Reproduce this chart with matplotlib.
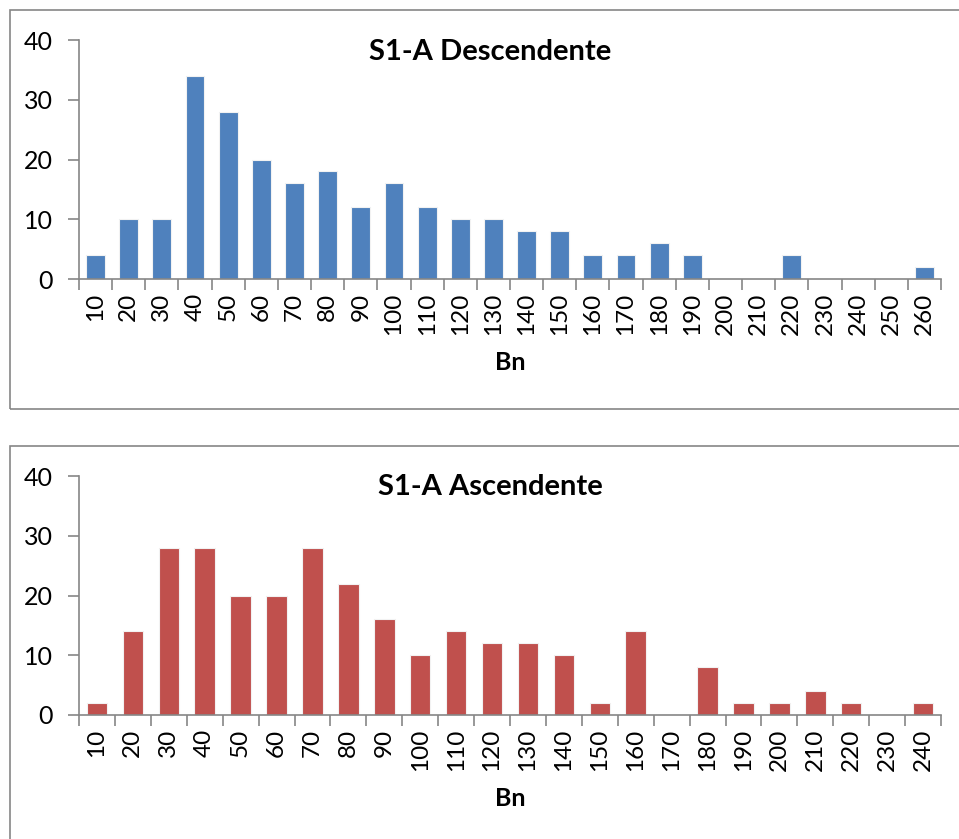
import matplotlib.pyplot as plt
import matplotlib.patches as patches
import numpy as np

# Descendente panel
desc_bins = [10, 20, 30, 40, 50, 60, 70, 80, 90, 100, 110, 120, 130,
             140, 150, 160, 170, 180, 190, 200, 210, 220, 230, 240, 250, 260]
desc_counts = [4, 10, 10, 34, 28, 20, 16, 18, 12, 16, 12, 10, 10,
               8, 8, 4, 4, 6, 4, 0, 0, 4, 0, 0, 0, 2]

# Ascendente panel
asc_bins = [10, 20, 30, 40, 50, 60, 70, 80, 90, 100, 110, 120,
            130, 140, 150, 160, 170, 180, 190, 200, 210, 220, 230, 240]
asc_counts = [2, 14, 28, 28, 20, 20, 28, 22, 16, 10, 14, 12,
              12, 10, 2, 14, 0, 8, 2, 2, 4, 2, 0, 2]

plt.rcParams['font.family'] = ['Lato', 'DejaVu Sans']

W, H = 959, 839
fig = plt.figure(figsize=(W / 100, H / 100), dpi=100)

AXIS_GREY = '#868686'


def px_box(left, top, right, bottom):
    return [left / W, 1 - bottom / H, (right - left) / W, (bottom - top) / H]


def draw_panel(box, bins, counts, color, title, title_y, label_y):
    ax = fig.add_axes(box)
    n = len(bins)
    x = np.arange(n)
    ax.bar(x, counts, width=0.57, color=color, edgecolor='#f2f2f2',
           linewidth=0.8, zorder=2)
    ax.set_xlim(-0.5, n - 0.5)
    ax.set_ylim(0, 40)
    ax.set_yticks([0, 10, 20, 30, 40])
    ax.set_xticks(x)
    ax.set_xticklabels([str(b) for b in bins], rotation=90, fontsize=17.5)
    ax.set_xticks(np.arange(-0.5, n, 1.0), minor=True)
    ax.tick_params(axis='x', which='major', length=0, pad=10)
    ax.tick_params(axis='x', which='minor', length=8, color=AXIS_GREY, width=1.2)
    ax.tick_params(axis='y', length=8, color=AXIS_GREY, width=1.2,
                   labelsize=18, pad=11)
    for s in ['top', 'right']:
        ax.spines[s].set_visible(False)
    for s in ['left', 'bottom']:
        ax.spines[s].set_color(AXIS_GREY)
        ax.spines[s].set_linewidth(1.2)
    fig.text(490 / W, 1 - title_y / H, title, ha='center', va='center',
             fontsize=21, fontweight='bold')
    fig.text(510 / W, 1 - label_y / H, 'Bn', ha='center', va='center',
             fontsize=18, fontweight='bold')
    return ax


# chart area borders
fig.patches.append(patches.Rectangle((10 / W, 1 - 409 / H), 1.0, 399 / H,
                                     transform=fig.transFigure, fill=False,
                                     edgecolor=AXIS_GREY, linewidth=1.2))
fig.patches.append(patches.Rectangle((10 / W, -0.1), 1.0, 0.1 + (839 - 446) / H,
                                     transform=fig.transFigure, fill=False,
                                     edgecolor=AXIS_GREY, linewidth=1.2))

draw_panel(px_box(79, 40, 941, 279), desc_bins, desc_counts, '#4F81BD',
           'S1-A Descendente', 52, 362)
draw_panel(px_box(79, 476, 941, 715), asc_bins, asc_counts, '#C0504D',
           'S1-A Ascendente', 487, 798)

fig.savefig('out.png', dpi=100)
